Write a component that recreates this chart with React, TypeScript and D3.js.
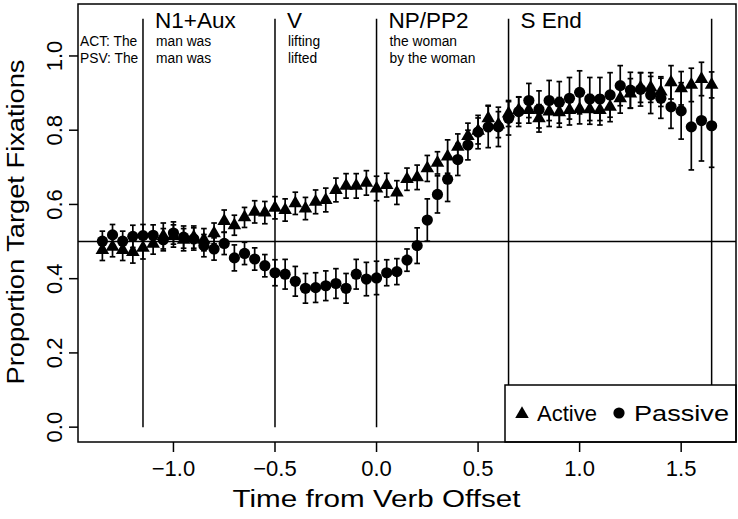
import React from "react";
import * as d3 from "d3";

const times: number[] = Array.from({ length: 61 }, (_, i) => Math.round((-1.35 + 0.05 * i) * 100) / 100);

const activeMean = [
  0.477, 0.486, 0.477, 0.472, 0.483, 0.494, 0.515, 0.515, 0.505, 0.512,
  0.505, 0.522, 0.555, 0.544, 0.565, 0.58, 0.578, 0.591, 0.585, 0.603,
  0.589, 0.607, 0.612, 0.639, 0.65, 0.65, 0.658, 0.643, 0.652, 0.632,
  0.668, 0.673, 0.697, 0.712, 0.729, 0.755, 0.784, 0.798, 0.832, 0.815,
  0.845, 0.854, 0.854, 0.832, 0.85, 0.848, 0.854, 0.857, 0.856, 0.854,
  0.863, 0.886, 0.899, 0.915, 0.915, 0.904, 0.929, 0.913, 0.922, 0.938,
  0.922,
];
const activeErr = [
  0.028, 0.027, 0.028, 0.03, 0.03, 0.028, 0.035, 0.03, 0.03, 0.03,
  0.03, 0.028, 0.03, 0.027, 0.027, 0.03, 0.03, 0.03, 0.03, 0.03,
  0.03, 0.032, 0.032, 0.032, 0.033, 0.033, 0.033, 0.033, 0.032, 0.032,
  0.03, 0.033, 0.035, 0.03, 0.045, 0.035, 0.035, 0.035, 0.035, 0.035,
  0.035, 0.035, 0.035, 0.037, 0.04, 0.04, 0.04, 0.04, 0.04, 0.04,
  0.04, 0.04, 0.04, 0.04, 0.04, 0.04, 0.045, 0.045, 0.045, 0.045,
  0.035,
];
const passiveMean = [
  0.501, 0.518, 0.501, 0.514, 0.516, 0.517, 0.505, 0.523, 0.512, 0.507,
  0.489, 0.48, 0.495, 0.456, 0.468, 0.453, 0.435, 0.416, 0.412, 0.393,
  0.374, 0.376, 0.381, 0.387, 0.374, 0.412, 0.399, 0.402, 0.416, 0.419,
  0.45, 0.489, 0.558, 0.627, 0.668, 0.721, 0.76, 0.795, 0.809, 0.809,
  0.832, 0.85, 0.88, 0.856, 0.88, 0.875, 0.886, 0.902, 0.884, 0.884,
  0.895, 0.92, 0.908, 0.91, 0.895, 0.886, 0.863, 0.852, 0.809, 0.826,
  0.812,
];
const passiveErr = [
  0.027, 0.028, 0.027, 0.03, 0.03, 0.028, 0.03, 0.03, 0.03, 0.03,
  0.03, 0.03, 0.03, 0.035, 0.03, 0.03, 0.03, 0.035, 0.04, 0.04,
  0.04, 0.04, 0.04, 0.04, 0.04, 0.04, 0.045, 0.045, 0.035, 0.035,
  0.03, 0.048, 0.057, 0.05, 0.06, 0.043, 0.04, 0.045, 0.056, 0.053,
  0.045, 0.04, 0.046, 0.05, 0.054, 0.056, 0.056, 0.058, 0.058, 0.058,
  0.06, 0.054, 0.048, 0.045, 0.05, 0.054, 0.058, 0.076, 0.116, 0.109,
  0.112,
];

const xTicks = [-1.0, -0.5, 0.0, 0.5, 1.0, 1.5];
const yTicks = [0.0, 0.2, 0.4, 0.6, 0.8, 1.0];

const regionLines = [-1.15, -0.5, 0.0, 0.65, 1.65];
const regionLabels = ["N1+Aux", "V", "NP/PP2", "S End"];
const actWords = ["man was", "lifting", "the woman"];
const psvWords = ["man was", "lifted", "by the woman"];

const W = 738;
const H = 519;
const box = { left: 78, right: 736, top: 4, bottom: 442 };
const FONT = "'Liberation Sans', Arial, sans-serif";

export default function App() {
  const x = d3.scaleLinear().domain([-1.47, 1.77]).range([box.left, box.right]);
  const y = d3.scaleLinear().domain([-0.04, 1.14]).range([box.bottom, box.top]);
  const tri = d3.symbol(d3.symbolTriangle, 80)() as string;
  const fmt = d3.format(".1f");
  const capW = 2.8;

  const series = [
    { mean: activeMean, err: activeErr, kind: "tri" },
    { mean: passiveMean, err: passiveErr, kind: "circ" },
  ];

  return (
    <svg width={W} height={H} style={{ position: "absolute", left: 0, top: 0, background: "#fff" }} fontFamily={FONT}>
      <rect x={0} y={0} width={W} height={H} fill="#fff" />
      {regionLines.map((t, i) => (
        <line key={"rl" + i} x1={x(t)} x2={x(t)} y1={y(1.1)} y2={y(0)} stroke="#000" strokeWidth={1.5} />
      ))}
      <line x1={box.left} x2={box.right} y1={y(0.5)} y2={y(0.5)} stroke="#000" strokeWidth={1.5} />
      {regionLabels.map((s, i) => (
        <text key={"lab" + i} x={x(regionLines[i]) + 12} y={28} fontSize={22.5} fill="#000">{s}</text>
      ))}
      <text x={box.left + 2} y={46} fontSize={13.8} fill="#000">ACT: The</text>
      <text x={box.left + 2} y={63} fontSize={13.8} fill="#000">PSV: The</text>
      {actWords.map((s, i) => (
        <text key={"aw" + i} x={x(regionLines[i]) + 13} y={46} fontSize={13.8} fill="#000">{s}</text>
      ))}
      {psvWords.map((s, i) => (
        <text key={"pw" + i} x={x(regionLines[i]) + 13} y={63} fontSize={13.8} fill="#000">{s}</text>
      ))}
      {series.map((s, si) => (
        <g key={"s" + si}>
          {times.map((t, i) => {
            const cx = x(t);
            const lo = y(s.mean[i] - s.err[i]);
            const hi = y(s.mean[i] + s.err[i]);
            return (
              <g key={i}>
                <line x1={cx} x2={cx} y1={lo} y2={hi} stroke="#000" strokeWidth={1.7} />
                <line x1={cx - capW} x2={cx + capW} y1={lo} y2={lo} stroke="#000" strokeWidth={1.7} />
                <line x1={cx - capW} x2={cx + capW} y1={hi} y2={hi} stroke="#000" strokeWidth={1.7} />
                {s.kind === "tri" ? (
                  <path d={tri} transform={`translate(${cx},${y(s.mean[i])})`} fill="#000" />
                ) : (
                  <circle cx={cx} cy={y(s.mean[i])} r={5.6} fill="#000" />
                )}
              </g>
            );
          })}
        </g>
      ))}
      <rect x={505} y={385} width={box.right - 505} height={box.bottom - 385} fill="#fff" stroke="#000" strokeWidth={1.5} />
      <path d={tri} transform={`translate(${522},${414})`} fill="#000" />
      <text x={537} y={421} fontSize={22} textLength={60} lengthAdjust="spacingAndGlyphs" fill="#000">Active</text>
      <circle cx={619} cy={413} r={5.6} fill="#000" />
      <text x={634} y={421} fontSize={22} textLength={95} lengthAdjust="spacingAndGlyphs" fill="#000">Passive</text>
      <rect x={box.left} y={box.top} width={box.right - box.left} height={box.bottom - box.top} fill="none" stroke="#000" strokeWidth={1.5} />
      {xTicks.map((t) => (
        <g key={"xt" + t}>
          <line x1={x(t)} x2={x(t)} y1={box.bottom} y2={box.bottom + 10} stroke="#000" strokeWidth={1.5} />
          <text x={x(t)} y={476} fontSize={22} textAnchor="middle" fill="#000">{t < 0 ? "\u2212" + fmt(-t) : fmt(t)}</text>
        </g>
      ))}
      <text x={x(0)} y={507} fontSize={23} textAnchor="middle" textLength={288} lengthAdjust="spacingAndGlyphs" fill="#000">Time from Verb Offset</text>
      {yTicks.map((v) => (
        <g key={"yt" + v}>
          <line x1={box.left - 9} x2={box.left} y1={y(v)} y2={y(v)} stroke="#000" strokeWidth={1.5} />
          <text transform={`translate(${62},${y(v)}) rotate(-90)`} fontSize={22} textAnchor="middle" fill="#000">{fmt(v)}</text>
        </g>
      ))}
      <text transform={`translate(${24},${222}) rotate(-90)`} fontSize={23} textAnchor="middle" textLength={325} lengthAdjust="spacingAndGlyphs" fill="#000">Proportion Target Fixations</text>
    </svg>
  );
}
